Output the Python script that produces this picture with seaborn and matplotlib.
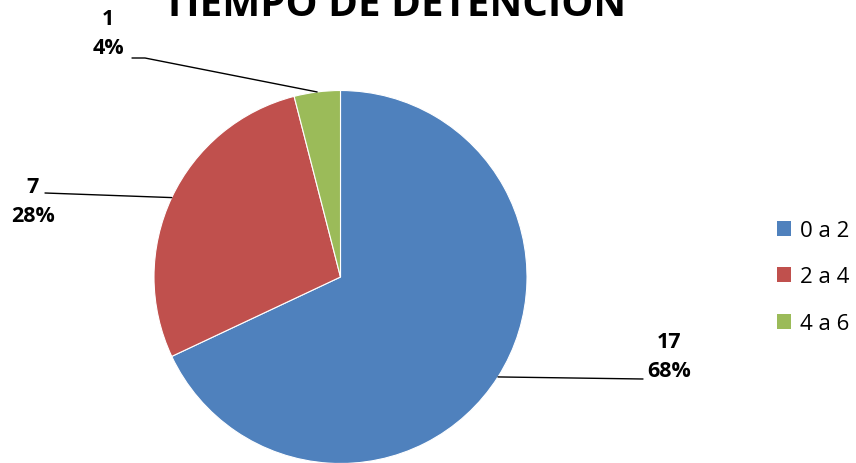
import numpy as np
import matplotlib
matplotlib.use("Agg")
from matplotlib import pyplot as plt
from matplotlib.patches import Patch
import seaborn as sns

# data
categories = ["0 a 2", "2 a 4", "4 a 6"]
counts = [17, 7, 1]
percents = ["68%", "28%", "4%"]
colors = ["#4F81BD", "#C0504D", "#9BBB59"]
title = "TIEMPO DE DETENCIÓN"

sns.set_theme(style="white")
plt.rcParams["font.family"] = ["Open Sans", "DejaVu Sans"]
plt.rcParams["text.color"] = "black"

W, H = 856, 464
fig = plt.figure(figsize=(W / 100, H / 100), dpi=100)
ax = fig.add_axes([0, 0, 1, 1])

cx, cy, r = 340.5, H - 278, 186.5
wedges, _ = ax.pie(counts, colors=colors, startangle=90, counterclock=False,
                   center=(cx, cy), radius=r, frame=True,
                   wedgeprops=dict(edgecolor="white", linewidth=0.8))
ax.set_xlim(0, W)
ax.set_ylim(0, H)
ax.set_aspect("equal")
ax.axis("off")

# label positions (text centre, leader end) in pixels from top-left
label_pos = [(669, 357), (33, 202), (108, 34)]
line_end = [[(643, 380)], [(45, 194)], [(145, 59), (132, 59)]]

for w, n, p, (tx, ty), ends in zip(wedges, counts, percents, label_pos, line_end):
    mid = np.deg2rad((w.theta1 + w.theta2) / 2)
    x0, y0 = cx + r * np.cos(mid), cy + r * np.sin(mid)
    xs = [x0] + [e[0] for e in ends]
    ys = [y0] + [H - e[1] for e in ends]
    ax.plot(xs, ys, color="black", lw=1)
    ax.text(tx, H - ty, f"{n}\n{p}", ha="center", va="center", fontsize=15.5,
            fontweight="bold", linespacing=1.5, color="black")

ax.text(395, H - 16, title, ha="center", va="baseline", fontsize=29,
        fontweight="bold", color="black")

handles = [Patch(facecolor=c, edgecolor="none") for c in colors]
leg = ax.legend(handles, categories, loc="center left",
                bbox_to_anchor=(777 / W, 1 - 278 / H), frameon=False, fontsize=16,
                handlelength=0.65, handleheight=0.65, handletextpad=0.4,
                labelspacing=1.15, borderpad=0, borderaxespad=0)
for t in leg.get_texts():
    t.set_color("black")

fig.savefig("out.png", dpi=100)
